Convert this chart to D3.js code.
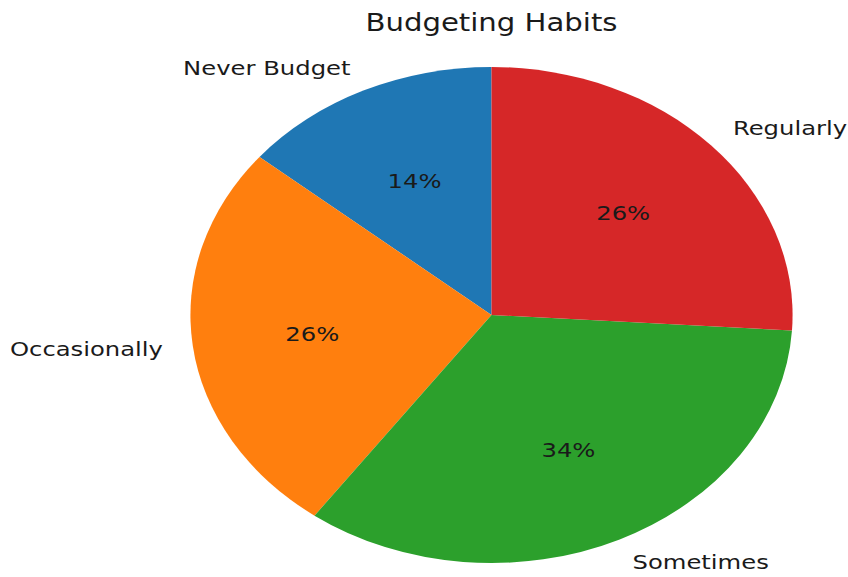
<!DOCTYPE html>
<html>
<head>
<meta charset="utf-8">
<script src="https://cdn.jsdelivr.net/npm/d3@7"></script>
<style>
  html, body { margin: 0; padding: 0; background: #fff; }
  svg { display: block; }
  text { font-family: "DejaVu Sans", sans-serif; fill: #1a1a1a; }
</style>
</head>
<body>
<div id="chart"></div>
<script>
// Survey shares, listed counter-clockwise from 12 o'clock
const categories = ["Never Budget", "Occasionally", "Sometimes", "Regularly"];
const shares = [14, 26, 34, 26];
const colors = ["#1f77b4", "#ff7f0e", "#2ca02c", "#d62728"];
const title = "Budgeting Habits";

const width = 848, height = 577;
const radius = 248;
const stretchX = 1.214;           // the figure is drawn wider than tall
const cx = 491.5, cy = 315;

const svg = d3.select("#chart").append("svg")
  .attr("width", width).attr("height", height);

svg.append("text")
  .attr("x", cx).attr("y", 31)
  .attr("text-anchor", "middle")
  .attr("transform", `translate(${cx},0) scale(${stretchX},1) translate(${-cx},0)`)
  .style("font-size", "24px")
  .text(title);

const g = svg.append("g")
  .attr("transform", `translate(${cx},${cy}) scale(${stretchX},1)`);

const data = categories.map((c, i) => ({ label: c, value: shares[i], color: colors[i] }));

// negative sweep = counter-clockwise wedges starting at the top
const pie = d3.pie().value(d => d.value).sort(null).startAngle(0).endAngle(-2 * Math.PI);
const arcs = pie(data);
const arc = d3.arc().innerRadius(0).outerRadius(radius);
const total = d3.sum(shares);

g.selectAll("path.wedge").data(arcs).join("path")
  .attr("class", "wedge")
  .attr("d", arc)
  .attr("fill", d => d.data.color);

const mid = d => (d.startAngle + d.endAngle) / 2;

g.selectAll("text.label").data(arcs).join("text")
  .attr("class", "label")
  .attr("x", d => 1.1 * radius * Math.sin(mid(d)))
  .attr("y", d => -1.1 * radius * Math.cos(mid(d)))
  .attr("text-anchor", d => Math.sin(mid(d)) > 0 ? "start" : "end")
  .attr("dominant-baseline", "central")
  .style("font-size", "20px")
  .text(d => d.data.label);

g.selectAll("text.pct").data(arcs).join("text")
  .attr("class", "pct")
  .attr("x", d => 0.6 * radius * Math.sin(mid(d)))
  .attr("y", d => -0.6 * radius * Math.cos(mid(d)))
  .attr("text-anchor", "middle")
  .attr("dominant-baseline", "central")
  .style("font-size", "20px")
  .text(d => d3.format(".0f")(d.data.value / total * 100) + "%");
</script>
</body>
</html>
